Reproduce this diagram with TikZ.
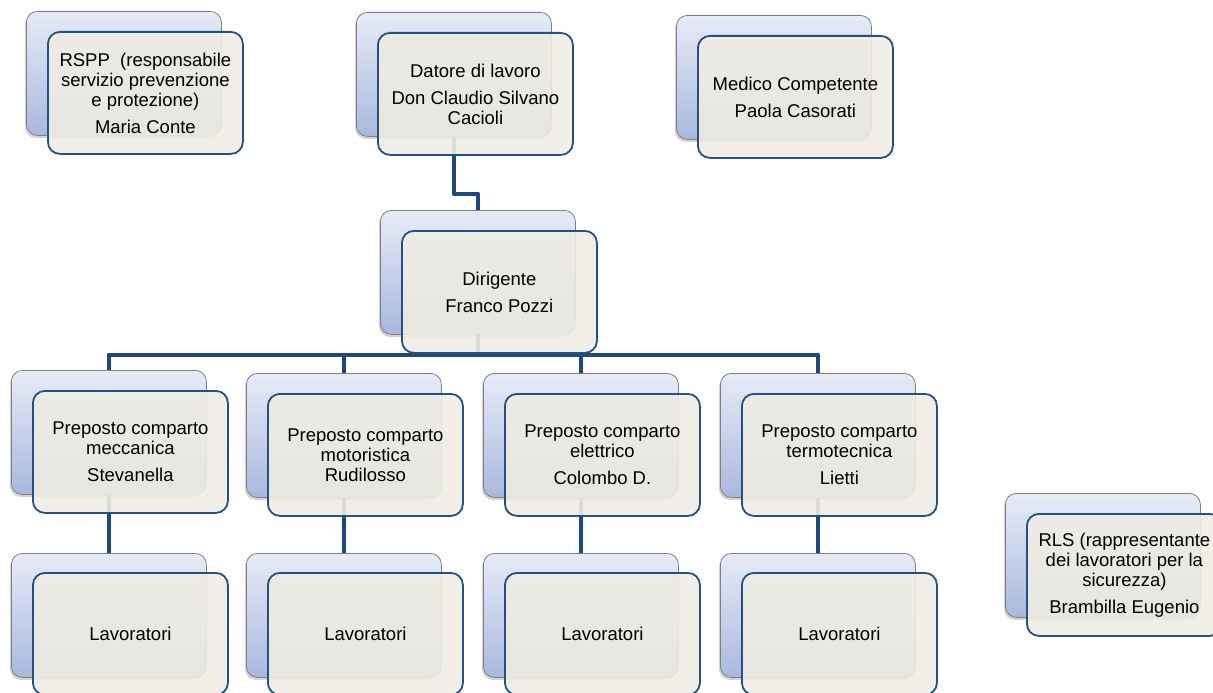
\documentclass[tikz,border=0pt]{standalone}
\usepackage{fontspec}
\setmainfont{Liberation Sans}
\usetikzlibrary{shadows}
\definecolor{connblue}{RGB}{31,73,125}
\definecolor{backtop}{RGB}{231,235,246}
\definecolor{backbot}{RGB}{168,184,222}
\definecolor{backline}{RGB}{128,128,128}
\definecolor{frontfill}{RGB}{238,236,227}
\definecolor{frontline}{RGB}{36,80,136}
\begin{document}
\begin{tikzpicture}[x=1pt,y=-1pt,
  backbox/.style={rectangle, rounded corners=11pt, draw=backline, line width=0.8pt,
    top color=backtop, bottom color=backbot, minimum width=195pt, minimum height=124pt,
    inner sep=0pt, anchor=north west,
    drop shadow={opacity=0.35, shadow xshift=-1.5pt, shadow yshift=-2.5pt}},
  frontbox/.style={rectangle, rounded corners=12pt, draw=frontline, line width=1.8pt,
    fill=frontfill, fill opacity=0.9, text opacity=1, draw opacity=1,
    minimum width=195pt, minimum height=122pt, inner sep=2pt, anchor=north west,
    align=center, font=\fontsize{18.5}{20}\selectfont},
  conn/.style={draw=connblue, line width=4.5pt, line join=round}]
\path[use as bounding box] (0,0) rectangle (1213,693);
\clip (0,0) rectangle (1213,693);

% back cards
\node[backbox] (rsppB) at (26,11) {};
\node[backbox] (datB) at (356,12) {};
\node[backbox] (medB) at (676,15) {};
\node[backbox] (dirB) at (380,210) {};
\node[backbox] (p1B) at (11,370) {};
\node[backbox] (p2B) at (246,373) {};
\node[backbox] (p3B) at (483,373) {};
\node[backbox] (p4B) at (720,373) {};
\node[backbox] (l1B) at (11,553) {};
\node[backbox] (l2B) at (246,553) {};
\node[backbox] (l3B) at (483,553) {};
\node[backbox] (l4B) at (720,553) {};
\node[backbox] (rlsB) at (1005,493) {};

% connectors
\draw[conn] (datB.south) -- ++(0,57) -| (dirB.north);
\draw[conn] (dirB.south) -- ++(0,20) -| (p1B.north);
\draw[conn] (dirB.south) -- ++(0,20) -| (p2B.north);
\draw[conn] (dirB.south) -- ++(0,20) -| (p3B.north);
\draw[conn] (dirB.south) -- ++(0,20) -| (p4B.north);
\draw[conn] (p1B.south) -- (l1B.north);
\draw[conn] (p2B.south) -- (l2B.north);
\draw[conn] (p3B.south) -- (l3B.north);
\draw[conn] (p4B.south) -- (l4B.north);

% front cards
\node[frontbox] (rspp) at (47,31) {RSPP\ \ (responsabile\\servizio prevenzione\\e protezione)\\[7pt]Maria Conte};
\node[frontbox] (dat) at (377,32) {Datore di lavoro\\[7pt]Don Claudio Silvano\\Cacioli};
\node[frontbox] (med) at (697,35) {Medico Competente\\[7pt]Paola Casorati};
\node[frontbox] (dir) at (401,230) {Dirigente\\[7pt]Franco Pozzi};
\node[frontbox] (p1) at (32,390) {Preposto comparto\\meccanica\\[7pt]Stevanella};
\node[frontbox] (p2) at (267,393) {Preposto comparto\\motoristica\\Rudilosso};
\node[frontbox] (p3) at (504,393) {Preposto comparto\\elettrico\\[7pt]Colombo D.};
\node[frontbox] (p4) at (741,393) {Preposto comparto\\termotecnica\\[7pt]Lietti};
\node[frontbox] (l1) at (32,572) {Lavoratori};
\node[frontbox] (l2) at (267,572) {Lavoratori};
\node[frontbox] (l3) at (504,572) {Lavoratori};
\node[frontbox] (l4) at (741,572) {Lavoratori};
\node[frontbox] (rls) at (1026,513) {RLS (rappresentante\\dei lavoratori per la\\sicurezza)\\[7pt]Brambilla Eugenio};
\end{tikzpicture}
\end{document}
